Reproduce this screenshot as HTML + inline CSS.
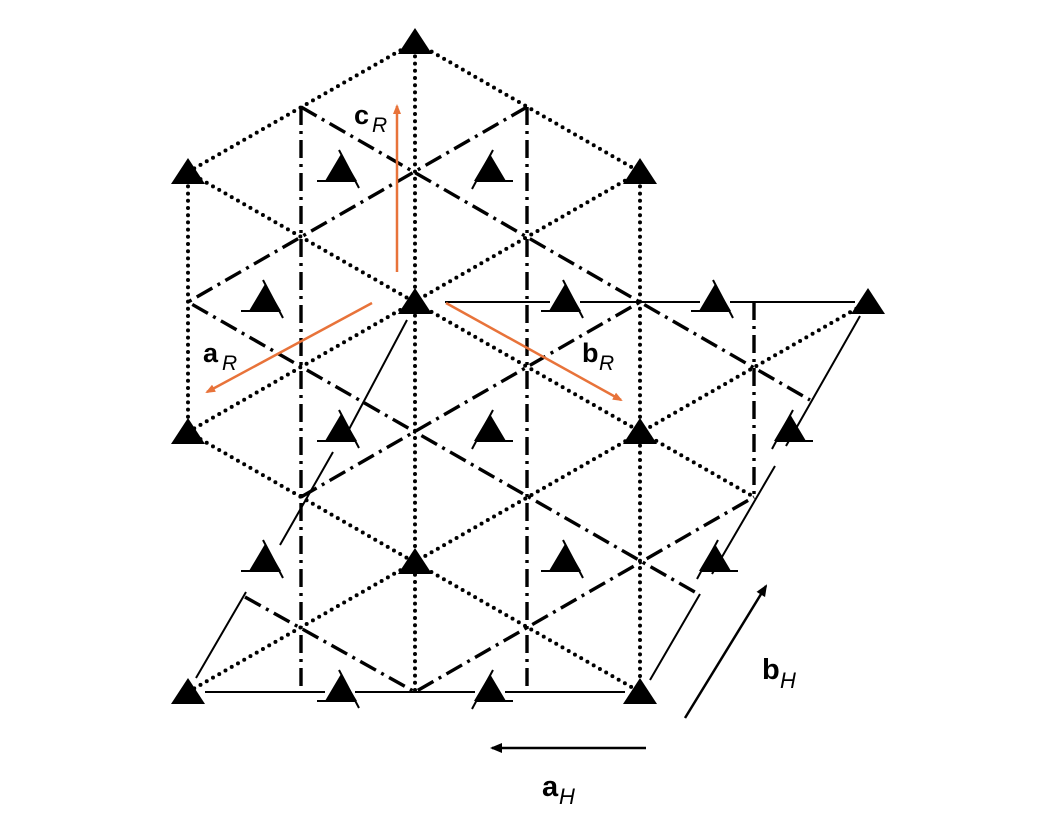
<!DOCTYPE html>
<html><head><meta charset="utf-8"><style>
html,body{margin:0;padding:0;background:#fff;}
svg{display:block}
text{font-family:"Liberation Sans",sans-serif;}
</style></head><body>
<svg width="1037" height="821" viewBox="0 0 1037 821" xmlns="http://www.w3.org/2000/svg">
<defs>
<marker id="ao" markerWidth="10" markerHeight="10" refX="8" refY="5" orient="auto" markerUnits="userSpaceOnUse"><path d="M0,1 L10,5 L0,9 z" fill="#E8733A"/></marker>
<marker id="ab" markerWidth="12" markerHeight="12" refX="10" refY="6" orient="auto" markerUnits="userSpaceOnUse"><path d="M0,1 L12,6 L0,11 z" fill="#000"/></marker>
</defs>
<g stroke="#000" stroke-width="4" stroke-linecap="round" stroke-dasharray="0 7.2" fill="none">
<path d="M188,172 L415,42 L640,172"/>
<path d="M415,42 V692 M188,172 V432 M640,172 V692"/>
<path d="M188,172 L754,497"/>
<path d="M188,432 L640,692"/>
<path d="M188,432 L640,172"/>
<path d="M188,692 L868,302"/>
</g>
<g stroke="#000" stroke-width="3.4" fill="none" stroke-dasharray="18 6 3 6">
<path d="M301,107 V692 M527,107 V692 M754,302 V497"/>
<path d="M301,107 L810,400"/>
<path d="M527,107 L188,302 L700,595"/>
<path d="M245,597 L415,692 L754,497"/>
<path d="M301,497 L640,302"/>
</g>
<g stroke="#000" stroke-width="2" fill="none">
<path d="M205,692 H325 M355,692 H475 M505,692 H625"/>
<path d="M650,680 L700,594 M712,574 L775,466 M786,446 L860,316"/>
<path d="M445,302 H550 M580,302 H700 M730,302 H855"/>
<path d="M196,678 L246,592 M280,545 L333,452 M346,435 L407,320"/>
</g>
<g fill="#000">
<path id="T" d="M415,28 L432,54 L398,54 z"/>
<use href="#T" transform="translate(-227,130)"/>
<use href="#T" transform="translate(225,130)"/>
<use href="#T" transform="translate(0,260)"/>
<use href="#T" transform="translate(453,260)"/>
<use href="#T" transform="translate(-227,390)"/>
<use href="#T" transform="translate(225,390)"/>
<use href="#T" transform="translate(0,520)"/>
<use href="#T" transform="translate(-227,650)"/>
<use href="#T" transform="translate(225,650)"/>
</g>
<g id="S0" stroke="#000" stroke-width="2" fill="#000">
<path d="M341,154 L357,181 L325,181 z" stroke="none"/>
<line x1="317" y1="181" x2="356" y2="181"/>
<line x1="339" y1="150" x2="359" y2="188"/>
</g>
<g id="S1" stroke="#000" stroke-width="2" fill="#000">
<path d="M490,154 L506,181 L474,181 z" stroke="none"/>
<line x1="476" y1="181" x2="513" y2="181"/>
<line x1="472" y1="189" x2="493" y2="150"/>
</g>
<use href="#S0" transform="translate(-76,130)"/>
<use href="#S0" transform="translate(224,130)"/>
<use href="#S0" transform="translate(374,130)"/>
<use href="#S0" transform="translate(0,260)"/>
<use href="#S1" transform="translate(0,260)"/>
<use href="#S1" transform="translate(300,260)"/>
<use href="#S0" transform="translate(-76,390)"/>
<use href="#S0" transform="translate(224,390)"/>
<use href="#S1" transform="translate(225,390)"/>
<use href="#S0" transform="translate(0,520)"/>
<use href="#S1" transform="translate(0,520)"/>
<g stroke="#E8733A" stroke-width="2.5" fill="none">
<line x1="397" y1="272" x2="397" y2="106" marker-end="url(#ao)"/>
<line x1="446" y1="303" x2="621" y2="400" marker-end="url(#ao)"/>
<line x1="372" y1="303" x2="207" y2="392" marker-end="url(#ao)"/>
</g>
<g stroke="#000" stroke-width="2.5" fill="none">
<line x1="646" y1="748" x2="492" y2="748" marker-end="url(#ab)"/>
<line x1="685" y1="718" x2="766" y2="586" marker-end="url(#ab)"/>
</g>
<text x="354" y="124" font-size="27" font-weight="bold">c</text><text x="372" y="132" font-size="21" font-style="italic">R</text>
<text x="203" y="362" font-size="27" font-weight="bold">a</text><text x="222" y="370" font-size="21" font-style="italic">R</text>
<text x="582" y="362" font-size="27" font-weight="bold">b</text><text x="599" y="370" font-size="21" font-style="italic">R</text>
<text x="762" y="679" font-size="29" font-weight="bold">b</text><text x="780" y="688" font-size="22" font-style="italic">H</text>
<text x="542" y="796" font-size="29" font-weight="bold">a</text><text x="559" y="804" font-size="22" font-style="italic">H</text>
</svg>
</body></html>
